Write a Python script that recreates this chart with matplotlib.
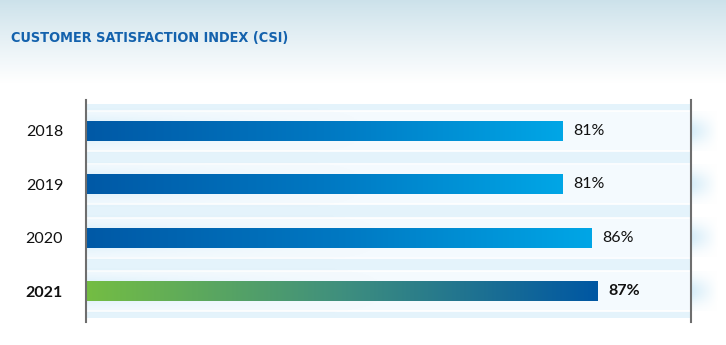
import numpy as np
import matplotlib
matplotlib.use('Agg')
import matplotlib.pyplot as plt
from matplotlib import font_manager
from matplotlib.colors import LinearSegmentedColormap

years = ['2018', '2019', '2020', '2021']
csi = [81, 81, 86, 87]
labels = ['81%', '81%', '86%', '87%']
highlight = [False, False, False, True]

title = 'CUSTOMER SATISFACTION INDEX (CSI)'

blue_grad = LinearSegmentedColormap.from_list('blue', ['#0059a6', '#0078c2', '#00a6e6'])
green_grad = LinearSegmentedColormap.from_list('green', ['#74bd43', '#3f8f7e', '#0057a3'])

plt.rcParams['font.family'] = ['Lato', 'DejaVu Sans']


def pick_title_font():
    # narrow bold face if one is installed, else plain Liberation Sans
    for fam, stretch in [('Liberation Sans Narrow', 'normal'), ('DejaVu Sans', 'condensed')]:
        fp = font_manager.FontProperties(family=fam, weight='bold', stretch=stretch)
        try:
            path = font_manager.findfont(fp, fallback_to_default=False)
        except Exception:
            continue
        if 'Narrow' in path or 'Condensed' in path:
            return dict(family=fam, stretch=stretch, fontsize=10.4)
    return dict(family='Liberation Sans', fontsize=10)


fig = plt.figure(figsize=(7.26, 3.45), dpi=100)

# header gradient background
bg = fig.add_axes([0, 0, 1, 1], zorder=-10)
bg.set_axis_off()
yy = np.linspace(0, 1, 345)
fade = np.clip(yy / 0.24, 0, 1) ** 0.9
top = np.array([0.80, 0.885, 0.92])
col = top[None, :] * (1 - fade[:, None]) + np.ones(3)[None, :] * fade[:, None]
bg.imshow(np.repeat(col[:, None, :], 2, axis=1), aspect='auto', extent=(0, 1, 0, 1),
          origin='upper')
bg.set_xlim(0, 1)
bg.set_ylim(0, 1)

ax = fig.add_axes([86 / 726, 23 / 345, 605 / 726, 222 / 345])
ax.set_facecolor('none')
ypos = np.arange(len(years))
xmax = 102.9

# row bands
for i in ypos:
    ax.axhspan(i - 0.5, i + 0.5, color='#e4f3fb', zorder=0, lw=0)
    ax.axhspan(i - 0.37, i + 0.37, color='#f4fafe', zorder=0.5, lw=0)
    for e in (i - 0.375, i + 0.375):
        ax.axhline(e, color='white', lw=1.2, zorder=0.6)
    # glow outside the right frame line
    rg = np.zeros((20, 40, 4))
    rg[..., 0], rg[..., 1], rg[..., 2] = 0.80, 0.91, 0.97
    vert = np.exp(-((np.linspace(-1, 1, 20)) / 0.7) ** 2)
    rg[..., 3] = 0.8 * vert[:, None] * np.linspace(1, 0, 40)[None, :]
    ax.imshow(rg, aspect='auto', extent=(xmax, xmax + 4.5, i + 0.37, i - 0.37),
              zorder=0.5, clip_on=False)

bars = ax.barh(ypos, csi, height=0.38, color='none', zorder=2)

for i, (b, v) in enumerate(zip(bars, csi)):
    # glow around bar
    g = np.zeros((20, 60, 4))
    g[..., 0], g[..., 1], g[..., 2] = 0.80, 0.92, 0.98
    vert = np.exp(-((np.linspace(-1, 1, 20)) / 0.6) ** 2)
    horiz = np.linspace(1, 0, 60) ** 1.5
    g[..., 3] = 0.8 * vert[:, None] * horiz[None, :]
    ax.imshow(g, aspect='auto', extent=(0, v * 0.6, i + 0.42, i - 0.42), zorder=1)
    cmap = green_grad if highlight[i] else blue_grad
    grad = np.linspace(0, 1, 256)[None, :]
    im = ax.imshow(grad, cmap=cmap, aspect='auto',
                   extent=(0, v, i + 0.19, i - 0.19), zorder=2)
    im.set_clip_path(b)
    ax.text(v + 1.85, i, labels[i], va='center', ha='left', fontsize=11.5,
            fontweight='bold' if highlight[i] else 'normal', color='#111111')

ax.set_xlim(0, xmax)
ax.set_ylim(3.58, -0.58)
ax.set_yticks(ypos)
ax.set_yticklabels(years)
for lbl, h in zip(ax.get_yticklabels(), highlight):
    lbl.set_fontsize(11.5)
    lbl.set_color('#111111')
    if h:
        lbl.set_fontweight('bold')
ax.tick_params(axis='y', length=0, pad=16.5)
ax.set_xticks([])
for s in ['top', 'bottom']:
    ax.spines[s].set_visible(False)
for s in ['left', 'right']:
    ax.spines[s].set_color('#6e6e6e')
    ax.spines[s].set_linewidth(1.5)

fig.text(11 / 726, 1 - 38 / 345, title, fontweight='bold', color='#1462ad',
         va='center', ha='left', **pick_title_font())

fig.savefig('out.png', dpi=100)
